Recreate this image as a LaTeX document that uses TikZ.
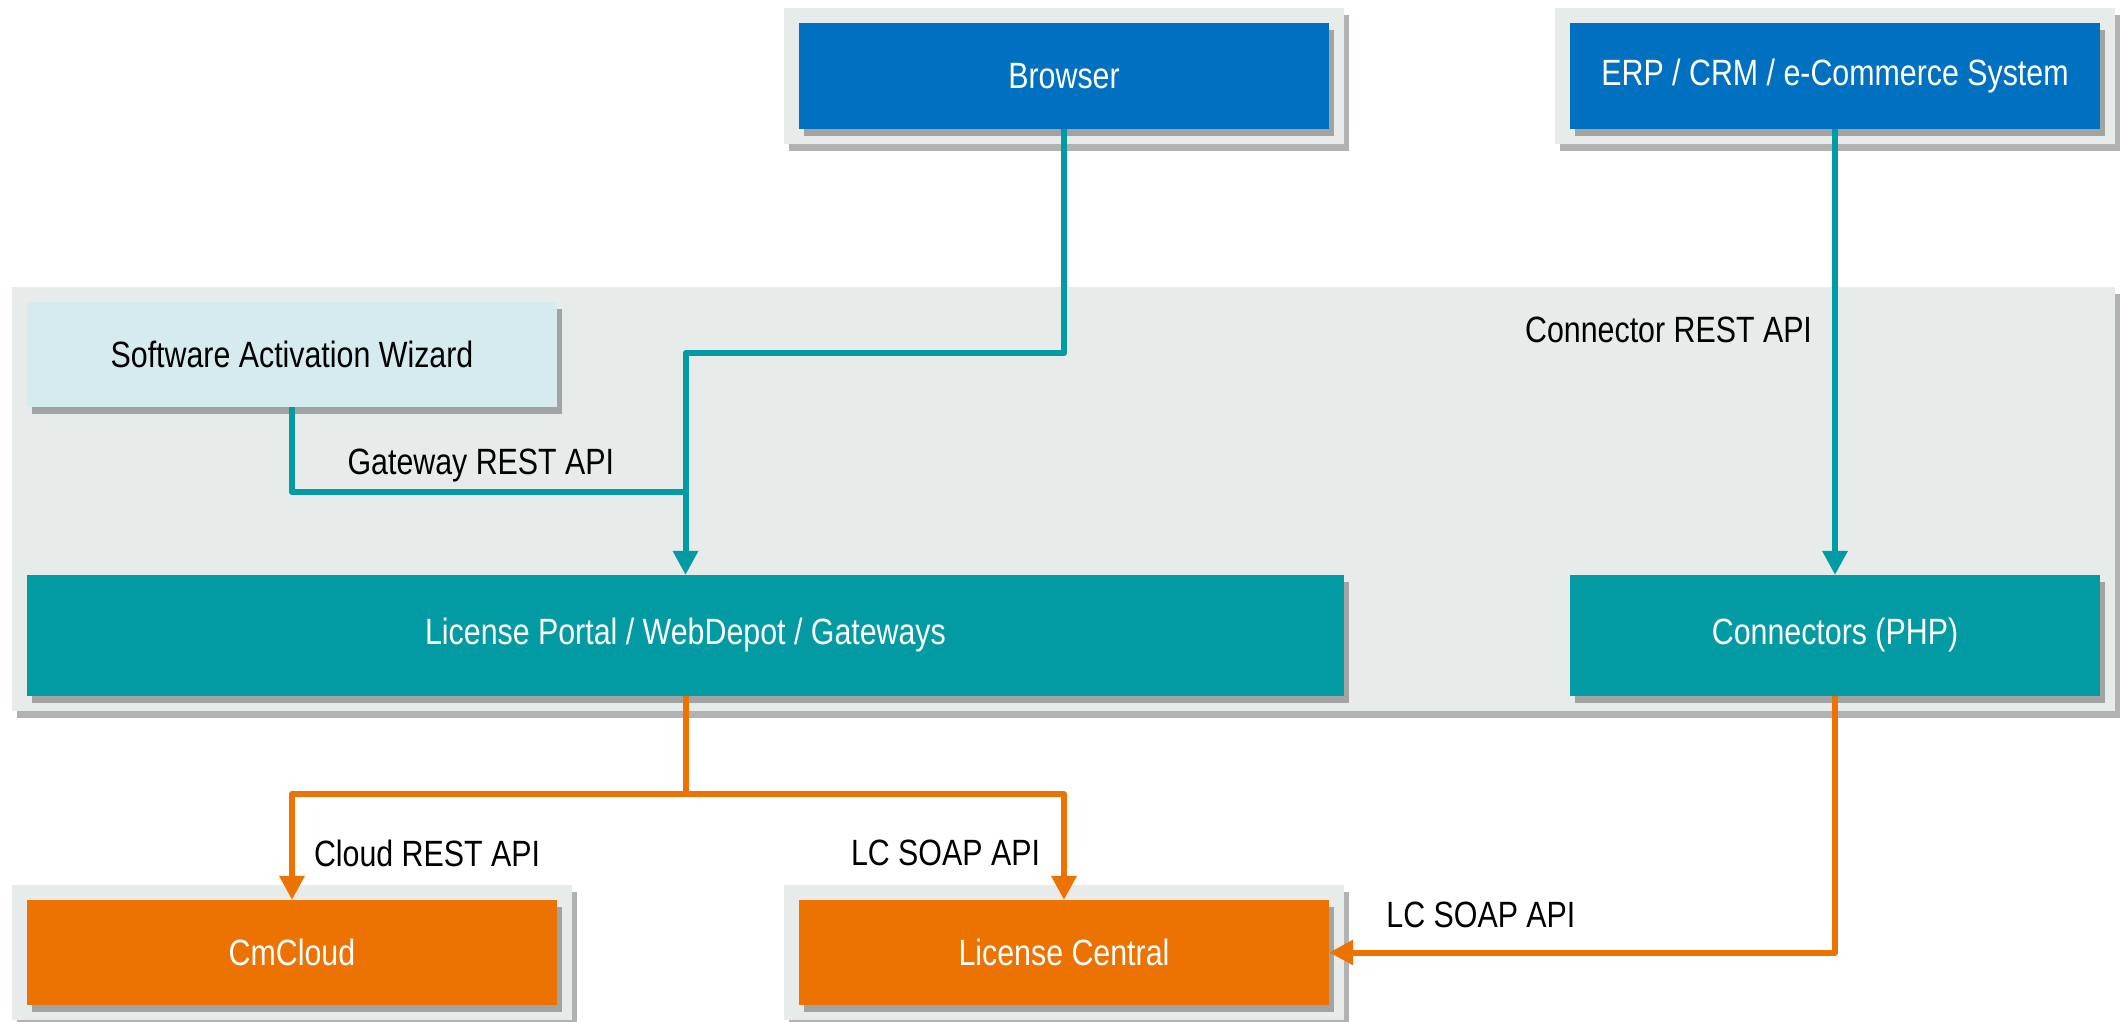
\documentclass[tikz,border=0pt]{standalone}
\usepackage{fontspec}
\setmainfont{Liberation Sans}[FakeStretch=0.83]
\usetikzlibrary{arrows.meta,shadows}
\definecolor{cmblue}{RGB}{0,112,192}
\definecolor{cmteal}{RGB}{2,155,164}
\definecolor{cmorange}{RGB}{236,114,2}
\definecolor{cmgray}{RGB}{231,235,234}
\definecolor{cmlight}{RGB}{214,235,238}
\begin{document}
\begin{tikzpicture}[x=0.01cm, y=-0.01cm, font=\fontsize{10.4}{12}\selectfont,
    boxshadow/.style={drop shadow={shadow xshift=0.05cm, shadow yshift=-0.07cm, fill=black, opacity=0.3}},
    panel/.style={fill=cmgray, boxshadow, inner sep=0pt, outer sep=0pt},
    block/.style={boxshadow, text=white, inner sep=0pt, outer sep=0pt},
    lbl/.style={text=black, inner sep=2pt},
    tealline/.style={draw=cmteal, line width=0.06cm, line join=round},
    orangeline/.style={draw=cmorange, line width=0.06cm, line join=round},
    tip/.style={-{Triangle[length=0.24cm, width=0.24cm]}}]
    \useasboundingbox (0,0) rectangle (2121,1021);
    \node[panel, minimum width=5.6cm, minimum height=1.36cm] (browserbg) at (1064,76) {};
    \node[block, fill=cmblue, minimum width=5.3cm, minimum height=1.06cm] (browser) at (1064,76) {Browser};
    \node[panel, minimum width=5.6cm, minimum height=1.36cm] (erpbg) at (1835,76) {};
    \node[block, fill=cmblue, minimum width=5.3cm, minimum height=1.06cm] (erp) at (1835,76) {ERP / CRM / e-Commerce System};
    \node[panel, minimum width=21.01cm, minimum height=4.24cm] (platform) at (1063.5,499) {};
    \node[block, fill=cmlight, text=black, minimum width=5.3cm, minimum height=1.05cm] (wizard) at (292,354.5) {Software Activation Wizard};
    \node[block, fill=cmteal, minimum width=13.17cm, minimum height=1.21cm] (portal) at (685.5,635.5) {License Portal / WebDepot / Gateways};
    \node[block, fill=cmteal, minimum width=5.3cm, minimum height=1.21cm] (connectors) at (1835,635.5) {Connectors (PHP)};
    \node[panel, minimum width=5.6cm, minimum height=1.35cm] (cloudbg) at (292,952.5) {};
    \node[block, fill=cmorange, minimum width=5.3cm, minimum height=1.05cm] (cmcloud) at (292,952.5) {CmCloud};
    \node[panel, minimum width=5.6cm, minimum height=1.35cm] (centralbg) at (1064,952.5) {};
    \node[block, fill=cmorange, minimum width=5.3cm, minimum height=1.05cm] (central) at (1064,952.5) {License Central};
    \coordinate (bturn) at (685.5,353);
    \coordinate (gwjoin) at (685.5,492);
    \coordinate (split) at (685.5,794);
    \draw[tealline] (wizard.south) |- node[lbl, pos=0.74, above] {Gateway REST API} (gwjoin);
    \draw[tealline, tip] (browser.south) |- (bturn) -- (portal.north);
    \draw[tealline, tip] (erp.south) -- node[lbl, pos=0.45, left=0.13cm] {Connector REST API} (connectors.north);
    \draw[orangeline] (portal.south) -- (split);
    \draw[orangeline, tip] (split) -| node[lbl, pos=0.78, right=0.12cm] {Cloud REST API} (cmcloud.north);
    \draw[orangeline, tip] (split) -| node[lbl, pos=0.78, left=0.14cm] {LC SOAP API} (central.north);
    \draw[orangeline, tip] (connectors.south) |- node[lbl, pos=0.85, above=0.15cm] {LC SOAP API} (central.east);
\end{tikzpicture}
\end{document}
